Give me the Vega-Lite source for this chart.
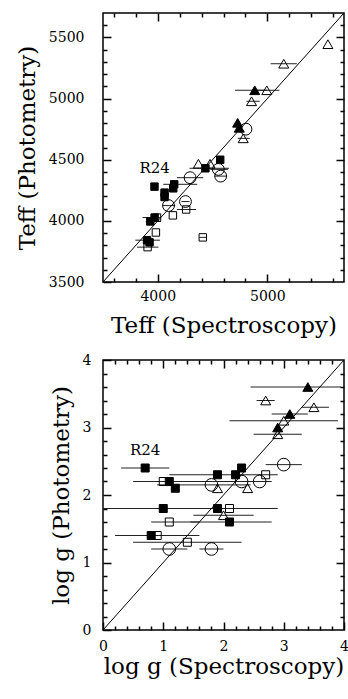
{
  "$schema": "https://vega.github.io/schema/vega-lite/v6.json",
  "padding": {"left": 15, "top": 9, "right": 0, "bottom": 0},
  "spacing": 14,
  "config": {
    "view": {"stroke": "black", "strokeWidth": 1.5},
    "axis": {"domain": false, "grid": false, "ticks": true, "tickColor": "black", "tickWidth": 1.5, "tickOpacity": 1, "labelFont": "DejaVu Serif", "labelFontSize": 14, "labelColor": "black", "titleFont": "DejaVu Serif", "titleFontSize": 23, "titleFontWeight": "normal", "titleColor": "black", "labelFlush": false, "labelOverlap": false, "titlePadding": 9, "format": "d", "zindex": 1}
  },
  "datasets": {
    "teff": [
      {"xs": 4570, "yp": 4500, "sym": "sq", "fill": "filled"},
      {"xs": 4435, "yp": 4430, "sym": "sq", "fill": "filled", "xlo": 4290, "xhi": 4650},
      {"xs": 3970, "yp": 4280, "sym": "sq", "fill": "filled"},
      {"xs": 4150, "yp": 4299, "sym": "sq", "fill": "filled", "xlo": 4050, "xhi": 4360},
      {"xs": 4141, "yp": 4266, "sym": "sq", "fill": "filled"},
      {"xs": 4062, "yp": 4231, "sym": "sq", "fill": "filled"},
      {"xs": 4062, "yp": 4195, "sym": "sq", "fill": "filled"},
      {"xs": 3971, "yp": 4027, "sym": "sq", "fill": "filled", "xlo": 3860, "xhi": 4020},
      {"xs": 3932, "yp": 3995, "sym": "sq", "fill": "filled", "xlo": 3890, "xhi": 4030},
      {"xs": 3902, "yp": 3842, "sym": "sq", "fill": "filled", "xlo": 3795, "xhi": 4020},
      {"xs": 3925, "yp": 3824, "sym": "sq", "fill": "filled"},
      {"xs": 3993, "yp": 4027, "sym": "sq", "fill": "open"},
      {"xs": 3983, "yp": 3905, "sym": "sq", "fill": "open"},
      {"xs": 3907, "yp": 3785, "sym": "sq", "fill": "open", "xlo": 3810, "xhi": 4005},
      {"xs": 4138, "yp": 4045, "sym": "sq", "fill": "open"},
      {"xs": 4259, "yp": 4093, "sym": "sq", "fill": "open", "xlo": 4175, "xhi": 4350},
      {"xs": 4411, "yp": 3865, "sym": "sq", "fill": "open", "xlo": 4380, "xhi": 4440},
      {"xs": 4805, "yp": 4750, "sym": "ci", "fill": "open"},
      {"xs": 4553, "yp": 4421, "sym": "ci", "fill": "open", "xlo": 4480, "xhi": 4640},
      {"xs": 4574, "yp": 4366, "sym": "ci", "fill": "open", "xlo": 4520, "xhi": 4630},
      {"xs": 4295, "yp": 4353, "sym": "ci", "fill": "open", "xlo": 4175, "xhi": 4415},
      {"xs": 4098, "yp": 4125, "sym": "ci", "fill": "open", "xlo": 4040, "xhi": 4160},
      {"xs": 4253, "yp": 4158, "sym": "ci", "fill": "open", "xlo": 4215, "xhi": 4290},
      {"xs": 5553, "yp": 5445, "sym": "tr", "fill": "open"},
      {"xs": 5150, "yp": 5285, "sym": "tr", "fill": "open", "xlo": 5030, "xhi": 5270},
      {"xs": 4995, "yp": 5068, "sym": "tr", "fill": "open", "xlo": 4900, "xhi": 5110},
      {"xs": 4856, "yp": 4978, "sym": "tr", "fill": "open", "xlo": 4810, "xhi": 4930},
      {"xs": 4780, "yp": 4675, "sym": "tr", "fill": "open", "xlo": 4730, "xhi": 4840},
      {"xs": 4371, "yp": 4467, "sym": "tr", "fill": "open"},
      {"xs": 4477, "yp": 4467, "sym": "tr", "fill": "open"},
      {"xs": 4885, "yp": 5068, "sym": "tr", "fill": "filled", "xlo": 4705, "xhi": 5000},
      {"xs": 4729, "yp": 4802, "sym": "tr", "fill": "filled"},
      {"xs": 4744, "yp": 4761, "sym": "tr", "fill": "filled"}
    ],
    "logg": [
      {"xs": 0.7, "yp": 2.4, "sym": "sq", "fill": "filled", "xlo": 0.3, "xhi": 1.1},
      {"xs": 2.3, "yp": 2.4, "sym": "sq", "fill": "filled"},
      {"xs": 1.9, "yp": 2.3, "sym": "sq", "fill": "filled", "xlo": 1.1, "xhi": 2.9},
      {"xs": 2.2, "yp": 2.3, "sym": "sq", "fill": "filled"},
      {"xs": 1.1, "yp": 2.2, "sym": "sq", "fill": "filled", "xlo": 0.5, "xhi": 2.3},
      {"xs": 1.2, "yp": 2.1, "sym": "sq", "fill": "filled"},
      {"xs": 1.0, "yp": 1.8, "sym": "sq", "fill": "filled", "xlo": 0.0, "xhi": 2.0},
      {"xs": 1.9, "yp": 1.8, "sym": "sq", "fill": "filled", "xlo": 1.0, "xhi": 2.9},
      {"xs": 2.1, "yp": 1.6, "sym": "sq", "fill": "filled", "xlo": 1.45, "xhi": 2.8},
      {"xs": 0.8, "yp": 1.4, "sym": "sq", "fill": "filled", "xlo": 0.2, "xhi": 1.6},
      {"xs": 2.7, "yp": 2.3, "sym": "sq", "fill": "open"},
      {"xs": 1.0, "yp": 2.2, "sym": "sq", "fill": "open"},
      {"xs": 2.1, "yp": 1.8, "sym": "sq", "fill": "open"},
      {"xs": 1.1, "yp": 1.6, "sym": "sq", "fill": "open", "xlo": 0.8, "xhi": 1.6},
      {"xs": 0.9, "yp": 1.4, "sym": "sq", "fill": "open"},
      {"xs": 1.4, "yp": 1.3, "sym": "sq", "fill": "open", "xlo": 0.5, "xhi": 2.3},
      {"xs": 3.0, "yp": 2.45, "sym": "ci", "fill": "open", "xlo": 2.7, "xhi": 3.3},
      {"xs": 1.8, "yp": 2.15, "sym": "ci", "fill": "open", "xlo": 0.9, "xhi": 2.45},
      {"xs": 2.3, "yp": 2.2, "sym": "ci", "fill": "open", "xlo": 1.6, "xhi": 2.8},
      {"xs": 2.6, "yp": 2.2, "sym": "ci", "fill": "open"},
      {"xs": 1.1, "yp": 1.2, "sym": "ci", "fill": "open", "xlo": 0.8, "xhi": 1.4},
      {"xs": 1.8, "yp": 1.2, "sym": "ci", "fill": "open", "xlo": 1.6, "xhi": 2.0},
      {"xs": 2.7, "yp": 3.4, "sym": "tr", "fill": "open", "xlo": 2.55, "xhi": 2.85},
      {"xs": 3.5, "yp": 3.3, "sym": "tr", "fill": "open", "xlo": 3.3, "xhi": 3.75},
      {"xs": 3.0, "yp": 3.1, "sym": "tr", "fill": "open", "xlo": 2.1, "xhi": 3.9},
      {"xs": 2.9, "yp": 2.9, "sym": "tr", "fill": "open", "xlo": 2.5, "xhi": 3.3},
      {"xs": 1.9, "yp": 2.1, "sym": "tr", "fill": "open"},
      {"xs": 2.4, "yp": 2.1, "sym": "tr", "fill": "open"},
      {"xs": 2.0, "yp": 1.7, "sym": "tr", "fill": "open", "xlo": 1.5, "xhi": 2.5},
      {"xs": 3.4, "yp": 3.6, "sym": "tr", "fill": "filled", "xlo": 2.45, "xhi": 3.95},
      {"xs": 3.1, "yp": 3.2, "sym": "tr", "fill": "filled", "xlo": 2.8, "xhi": 3.4},
      {"xs": 2.9, "yp": 3.0, "sym": "tr", "fill": "filled"}
    ],
    "diagT": [{"xs": 3500, "yp": 3500}, {"xs": 5700, "yp": 5700}],
    "diagG": [{"xs": 0, "yp": 0}, {"xs": 4, "yp": 4}],
    "labT": [{"xs": 3971, "yp": 4435, "label": "R24"}],
    "labG": [{"xs": 0.7, "yp": 2.66, "label": "R24"}]
  },
  "vconcat": [
    {
      "width": 241,
      "height": 269,
      "resolve": {"scale": {"x": "independent", "y": "independent"}},
      "layer": [
        {
          "data": {"name": "teff"},
          "encoding": {
            "x": {"field": "xs", "type": "quantitative", "title": "Teff (Spectroscopy)", "scale": {"domain": [3500, 5700], "nice": false, "zero": false},
              "axis": {"orient": "bottom", "values": [4000, 5000], "tickSize": 8, "offset": -8, "labelPadding": 7, "titlePadding": 11}},
            "y": {"field": "yp", "type": "quantitative", "title": "Teff (Photometry)", "scale": {"domain": [3500, 5700], "nice": false, "zero": false},
              "axis": {"orient": "left", "values": [3500, 4000, 4500, 5000, 5500], "tickSize": 8, "offset": -8, "labelPadding": 19}}
          },
          "layer": [
            {
              "transform": [{"filter": "isValid(datum.xlo)"}],
              "mark": {"type": "rule", "color": "#222222", "strokeWidth": 1, "clip": true},
              "encoding": {
                "x": {"field": "xlo", "type": "quantitative", "title": "Teff (Spectroscopy)", "scale": {"domain": [3500, 5700], "nice": false, "zero": false}},
                "x2": {"field": "xhi"}
              }
            },
            {
              "transform": [{"filter": "datum.sym === 'sq'"}],
              "mark": {"type": "point", "shape": "square", "size": 55, "filled": true, "stroke": "black", "strokeWidth": 1, "opacity": 1},
              "encoding": {"fill": {"field": "fill", "type": "nominal", "scale": {"domain": ["filled", "open"], "range": ["black", "transparent"]}, "legend": null}}
            },
            {
              "transform": [{"filter": "datum.sym === 'ci'"}],
              "mark": {"type": "point", "shape": "circle", "size": 140, "filled": true, "stroke": "black", "strokeWidth": 1, "opacity": 1},
              "encoding": {"fill": {"field": "fill", "type": "nominal", "scale": {"domain": ["filled", "open"], "range": ["black", "transparent"]}, "legend": null}}
            },
            {
              "transform": [{"filter": "datum.sym === 'tr'"}],
              "mark": {"type": "point", "shape": "triangle-up", "size": 100, "filled": true, "stroke": "black", "strokeWidth": 1, "opacity": 1},
              "encoding": {"fill": {"field": "fill", "type": "nominal", "scale": {"domain": ["filled", "open"], "range": ["black", "transparent"]}, "legend": null}}
            },
            {
              "data": {"name": "labT"},
              "mark": {"type": "text", "font": "DejaVu Serif", "fontSize": 15, "color": "black"},
              "encoding": {"text": {"field": "label"}}
            }
          ]
        },
        {
          "data": {"name": "diagT"},
          "mark": {"type": "line", "color": "black", "strokeWidth": 1},
          "encoding": {
            "x": {"field": "xs", "type": "quantitative", "scale": {"domain": [3500, 5700], "nice": false, "zero": false},
              "axis": {"orient": "top", "title": null, "labels": false, "values": [4000, 5000], "tickSize": 8, "offset": -8}},
            "y": {"field": "yp", "type": "quantitative", "scale": {"domain": [3500, 5700], "nice": false, "zero": false},
              "axis": {"orient": "right", "title": null, "labels": false, "values": [4000, 4500, 5000, 5500], "tickSize": 8, "offset": -8}}
          }
        },
        {
          "data": {"name": "diagT"},
          "mark": {"type": "point", "opacity": 0},
          "encoding": {
            "x": {"field": "xs", "type": "quantitative", "scale": {"domain": [3500, 5700], "nice": false, "zero": false},
              "axis": {"orient": "bottom", "title": null, "labels": false, "values": [3600, 3800, 4200, 4400, 4600, 4800, 5200, 5400, 5600], "tickSize": 4, "offset": -4}},
            "y": {"field": "yp", "type": "quantitative", "scale": {"domain": [3500, 5700], "nice": false, "zero": false},
              "axis": {"orient": "left", "title": null, "labels": false, "values": [3600, 3700, 3800, 3900, 4100, 4200, 4300, 4400, 4600, 4700, 4800, 4900, 5100, 5200, 5300, 5400, 5600], "tickSize": 4, "offset": -4}}
          }
        },
        {
          "data": {"name": "diagT"},
          "mark": {"type": "point", "opacity": 0},
          "encoding": {
            "x": {"field": "xs", "type": "quantitative", "scale": {"domain": [3500, 5700], "nice": false, "zero": false},
              "axis": {"orient": "top", "title": null, "labels": false, "values": [3600, 3800, 4200, 4400, 4600, 4800, 5200, 5400, 5600], "tickSize": 4, "offset": -4}},
            "y": {"field": "yp", "type": "quantitative", "scale": {"domain": [3500, 5700], "nice": false, "zero": false},
              "axis": {"orient": "right", "title": null, "labels": false, "values": [3600, 3700, 3800, 3900, 4100, 4200, 4300, 4400, 4600, 4700, 4800, 4900, 5100, 5200, 5300, 5400, 5600], "tickSize": 4, "offset": -4}}
          }
        }
      ]
    },
    {
      "width": 241,
      "height": 270,
      "resolve": {"scale": {"x": "independent", "y": "independent"}},
      "layer": [
        {
          "data": {"name": "logg"},
          "encoding": {
            "x": {"field": "xs", "type": "quantitative", "title": "log g (Spectroscopy)", "scale": {"domain": [0, 4], "nice": false, "zero": false},
              "axis": {"orient": "bottom", "values": [0, 1, 2, 3, 4], "tickSize": 8, "offset": -8, "labelPadding": 9, "titlePadding": 2}},
            "y": {"field": "yp", "type": "quantitative", "title": "log g (Photometry)", "scale": {"domain": [0, 4], "nice": false, "zero": false},
              "axis": {"orient": "left", "values": [0, 1, 2, 3, 4], "tickSize": 8, "offset": -8, "labelPadding": 12}}
          },
          "layer": [
            {
              "transform": [{"filter": "isValid(datum.xlo)"}],
              "mark": {"type": "rule", "color": "#222222", "strokeWidth": 1, "clip": true},
              "encoding": {
                "x": {"field": "xlo", "type": "quantitative", "title": "log g (Spectroscopy)", "scale": {"domain": [0, 4], "nice": false, "zero": false}},
                "x2": {"field": "xhi"}
              }
            },
            {
              "transform": [{"filter": "datum.sym === 'sq'"}],
              "mark": {"type": "point", "shape": "square", "size": 64, "filled": true, "stroke": "black", "strokeWidth": 1, "opacity": 1},
              "encoding": {"fill": {"field": "fill", "type": "nominal", "scale": {"domain": ["filled", "open"], "range": ["black", "transparent"]}, "legend": null}}
            },
            {
              "transform": [{"filter": "datum.sym === 'ci'"}],
              "mark": {"type": "point", "shape": "circle", "size": 160, "filled": true, "stroke": "black", "strokeWidth": 1, "opacity": 1},
              "encoding": {"fill": {"field": "fill", "type": "nominal", "scale": {"domain": ["filled", "open"], "range": ["black", "transparent"]}, "legend": null}}
            },
            {
              "transform": [{"filter": "datum.sym === 'tr'"}],
              "mark": {"type": "point", "shape": "triangle-up", "size": 100, "filled": true, "stroke": "black", "strokeWidth": 1, "opacity": 1},
              "encoding": {"fill": {"field": "fill", "type": "nominal", "scale": {"domain": ["filled", "open"], "range": ["black", "transparent"]}, "legend": null}}
            },
            {
              "data": {"name": "labG"},
              "mark": {"type": "text", "font": "DejaVu Serif", "fontSize": 15, "color": "black"},
              "encoding": {"text": {"field": "label"}}
            }
          ]
        },
        {
          "data": {"name": "diagG"},
          "mark": {"type": "line", "color": "black", "strokeWidth": 1},
          "encoding": {
            "x": {"field": "xs", "type": "quantitative", "scale": {"domain": [0, 4], "nice": false, "zero": false},
              "axis": {"orient": "top", "title": null, "labels": false, "values": [1, 2, 3], "tickSize": 8, "offset": -8}},
            "y": {"field": "yp", "type": "quantitative", "scale": {"domain": [0, 4], "nice": false, "zero": false},
              "axis": {"orient": "right", "title": null, "labels": false, "values": [1, 2, 3], "tickSize": 8, "offset": -8}}
          }
        },
        {
          "data": {"name": "diagG"},
          "mark": {"type": "point", "opacity": 0},
          "encoding": {
            "x": {"field": "xs", "type": "quantitative", "scale": {"domain": [0, 4], "nice": false, "zero": false},
              "axis": {"orient": "bottom", "title": null, "labels": false, "values": [0.2, 0.4, 0.6, 0.8, 1.2, 1.4, 1.6, 1.8, 2.2, 2.4, 2.6, 2.8, 3.2, 3.4, 3.6, 3.8], "tickSize": 4, "offset": -4}},
            "y": {"field": "yp", "type": "quantitative", "scale": {"domain": [0, 4], "nice": false, "zero": false},
              "axis": {"orient": "left", "title": null, "labels": false, "values": [0.2, 0.4, 0.6, 0.8, 1.2, 1.4, 1.6, 1.8, 2.2, 2.4, 2.6, 2.8, 3.2, 3.4, 3.6, 3.8], "tickSize": 4, "offset": -4}}
          }
        },
        {
          "data": {"name": "diagG"},
          "mark": {"type": "point", "opacity": 0},
          "encoding": {
            "x": {"field": "xs", "type": "quantitative", "scale": {"domain": [0, 4], "nice": false, "zero": false},
              "axis": {"orient": "top", "title": null, "labels": false, "values": [0.2, 0.4, 0.6, 0.8, 1.2, 1.4, 1.6, 1.8, 2.2, 2.4, 2.6, 2.8, 3.2, 3.4, 3.6, 3.8], "tickSize": 4, "offset": -4}},
            "y": {"field": "yp", "type": "quantitative", "scale": {"domain": [0, 4], "nice": false, "zero": false},
              "axis": {"orient": "right", "title": null, "labels": false, "values": [0.2, 0.4, 0.6, 0.8, 1.2, 1.4, 1.6, 1.8, 2.2, 2.4, 2.6, 2.8, 3.2, 3.4, 3.6, 3.8], "tickSize": 4, "offset": -4}}
          }
        }
      ]
    }
  ]
}
